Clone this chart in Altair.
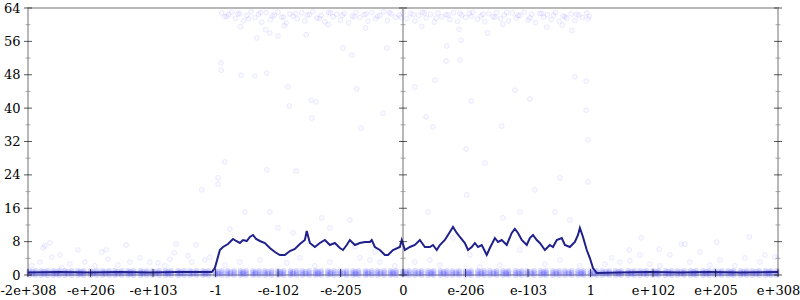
import json
import altair as alt
import pandas as pd

# ---------------- axis definitions ----------------
x_tick_pos = [-6, -5, -4, -3, -2, -1, 0, 1, 2, 3, 4, 5, 6]
x_tick_labels = ["-2e+308", "-e+206", "-e+103", "-1", "-e-102", "-e-205", "0",
                 "e-206", "e-103", "1", "e+102", "e+205", "e+308"]
y_major = [0, 8, 16, 24, 32, 40, 48, 56, 64]
y_minor = [4, 12, 20, 28, 36, 44, 52, 60]
axis_lines = [-6, 0, 6]

# ---------------- average error line ----------------
line_x = [-6.0, -5.49, -5.01, -4.53, -4.05, -3.57, -3.06, -3.01, -2.93, -2.88, -2.8, -2.72,
          -2.67, -2.61, -2.56, -2.5, -2.45, -2.4, -2.35, -2.29, -2.21, -2.13, -2.05, -1.97,
          -1.89, -1.81, -1.73, -1.65, -1.57, -1.54, -1.49, -1.41, -1.33, -1.25, -1.17, -1.09,
          -1.01, -0.96, -0.9, -0.85, -0.77, -0.69, -0.61, -0.53, -0.5, -0.45, -0.37, -0.29,
          -0.24, -0.16, -0.05, -0.02, 0.03, 0.11, 0.19, 0.27, 0.35, 0.43, 0.48, 0.54, 0.59,
          0.67, 0.75, 0.8, 0.86, 0.91, 0.99, 1.04, 1.1, 1.15, 1.2, 1.26, 1.34, 1.39, 1.47,
          1.52, 1.58, 1.66, 1.74, 1.79, 1.84, 1.9, 1.98, 2.03, 2.08, 2.14, 2.19, 2.27, 2.35,
          2.4, 2.46, 2.54, 2.59, 2.67, 2.75, 2.8, 2.83, 2.88, 2.94, 2.99, 3.04, 3.1, 3.47,
          3.95, 4.43, 4.91, 5.39, 6.0]
line_y = [0.6, 0.72, 0.6, 0.72, 0.6, 0.72, 0.72, 1.68, 5.99, 6.71, 7.43, 8.63,
          8.15, 7.67, 8.39, 8.15, 9.11, 9.59, 8.63, 8.15, 7.67, 6.47, 5.51, 4.79,
          4.79, 5.75, 6.23, 7.43, 8.39, 10.55, 7.67, 6.71, 7.67, 8.39, 7.19, 7.67,
          6.47, 5.99, 7.19, 8.39, 7.19, 7.67, 7.91, 7.91, 8.39, 6.71, 5.99, 4.79,
          4.79, 5.99, 6.71, 8.39, 5.99, 6.71, 7.19, 8.39, 6.71, 6.71, 7.19, 5.99, 7.19,
          8.39, 10.31, 11.51, 10.07, 9.11, 7.67, 5.99, 6.71, 7.67, 6.71, 7.19, 4.79, 6.47, 8.87,
          7.91, 8.39, 7.19, 10.07, 11.03, 10.07, 8.39, 7.19, 8.87, 9.59, 8.39, 7.67, 5.99, 7.19,
          6.71, 8.39, 8.87, 7.19, 6.71, 7.91, 9.59, 11.27, 9.11, 5.99, 4.07, 1.68, 0.48, 0.6,
          0.72, 0.6, 0.72, 0.6, 0.72]

# ---------------- scattered sample points ----------------
pts_x = [-2.91, -2.91, -2.59, -2.37, -2.18, -1.84, -1.82, -1.47, -1.39, -1.46, -0.67, -0.32,
         -0.74, -2.34, -2.13, -0.26, 0.69, 0.19, 0.51, 1.09, 1.79, 2.03, 0.37, 0.48, 1.58,
         2.75, 2.93, 2.93, 2.96, 1.01, 0.91, 0.7, 0.93, -0.82, -0.96,
         -3.22, -2.85, -2.96, -2.96, -2.53, -2.18, -1.71, -2.13, -1.76, -2.0, -2.77, -1.3,
         -1.17, -0.85, -0.77, -0.53, -0.45, 1.02, 0.4, 1.31, 1.87, 2.51, 2.96, 2.67, 2.43,
         1.6, 2.11, 0.8, -1.86,
         -3.17, -3.09, -2.61, -2.29, -1.65, -1.17, -0.69, -0.37, 0.43, 1.07, 1.87, 2.51, 1.55,
         0.59, 0.19, 2.27, -0.13, -2.85, -1.41, 1.23, 2.83,
         -5.81, -5.76, -5.65, -5.73, -5.46, -5.2, -4.82, -4.75, -4.72, -4.43, -4.37, -4.05,
         -3.92, -3.63, -3.38, -3.44, -3.66, -3.73, -5.94, -5.62, -5.49, -5.09, -4.56, -4.21,
         -3.31, -5.33, -4.93, -3.81,
         3.81, 4.45, 4.51, 5.02, 5.54, 4.1, 3.62, 3.79, 3.34, 3.63, 3.95, 4.27, 4.75, 5.07,
         5.47, 5.79, 5.95, 3.47, 4.59, 5.31, 5.71, 3.23, 4.11, 4.91,
         -2.6, -2.2, -1.9, -1.2, -0.6, 0.3, 0.9, 1.6, 2.3, 2.7, -1.55, -2.0, 1.35, 2.55]
pts_y = [50.8, 49.1, 47.9, 47.7, 48.4, 45.1, 40.5, 41.9, 41.5, 37.6, 35.2, 38.8,
         44.6, 56.8, 58.0, 54.4, 51.3, 45.1, 46.7, 41.7, 44.3, 42.2, 37.9, 35.5, 35.7,
         47.5, 46.5, 39.5, 32.4, 30.2, 51.5, 54.9, 56.3, 52.7, 54.4,
         20.4, 27.1, 23.3, 21.8, 15.1, 25.2, 24.9, 15.1, 10.1, 11.3, 11.0, 13.7,
         11.3, 13.2, 6.7, 3.6, 5.5, 19.2, 15.1, 26.8, 15.1, 23.3, 22.3, 13.2, 15.1,
         13.7, 20.4, 8.9, 2.9,
         3.6, 4.3, 3.1, 3.6, 4.1, 3.1, 4.1, 3.1, 3.6, 4.8, 6.0, 3.6, 2.4,
         2.4, 3.1, 2.6, 2.2, 2.4, 2.2, 1.9, 2.2,
         3.1, 6.5, 7.7, 7.0, 1.7, 6.0, 5.5, 6.0, 3.8, 7.2, 3.1, 3.1,
         2.9, 7.4, 3.1, 4.6, 5.3, 3.8, 2.2, 4.3, 4.8, 3.1, 2.4, 4.1,
         7.2, 2.6, 2.2, 2.2,
         8.9, 7.4, 7.4, 7.9, 9.1, 6.2, 6.0, 4.8, 4.1, 3.4, 2.6, 4.8, 5.5, 3.6,
         4.1, 4.8, 4.3, 3.1, 3.1, 2.2, 3.1, 2.6, 2.2, 2.4,
         59.5, 58.8, 59.8, 60.0, 59.2, 59.6, 58.9, 60.1, 59.4, 58.6, 57.6, 57.3, 58.0, 59.9]

# dense band of samples near the top, between -1 and 1
top_x = [-2.9, -2.85, -2.79, -2.74, -2.68, -2.61, -2.55, -2.5, -2.43, -2.37, -2.31, -2.26,
         -2.19, -2.12, -2.06, -2.0, -1.94, -1.87, -1.81, -1.76, -1.69, -1.62, -1.57, -1.5,
         -1.44, -1.38, -1.31, -1.25, -1.19, -1.12, -1.06, -1.0, -0.94, -0.87, -0.81, -0.75,
         -0.69, -0.62, -0.56, -0.5, -0.44, -0.37, -0.31, -0.25, -0.19, -0.12, -0.06, 0.0,
         0.06, 0.12, 0.19, 0.25, 0.31, 0.37, 0.44, 0.5, 0.56, 0.62, 0.69, 0.75, 0.81, 0.87,
         0.94, 1.0, 1.06, 1.12, 1.19, 1.25, 1.31, 1.37, 1.44, 1.5, 1.56, 1.62, 1.69, 1.75,
         1.81, 1.87, 1.94, 2.0, 2.06, 2.12, 2.19, 2.25, 2.31, 2.37, 2.44, 2.5, 2.56, 2.62,
         2.69, 2.75, 2.81, 2.87, 2.94, 2.98]
top_y = [62.8, 61.9, 62.4, 63.0, 61.5, 62.6, 60.9, 62.2, 63.1, 61.7, 62.5, 60.6,
         62.9, 61.2, 62.3, 63.0, 61.8, 60.4, 62.6, 62.0, 61.4, 62.8, 60.9, 62.4,
         63.1, 61.6, 62.2, 60.7, 62.9, 61.9, 62.5, 61.1, 62.7, 60.5, 62.1, 63.0,
         61.7, 62.4, 60.8, 62.9, 61.4, 62.2, 63.1, 61.0, 62.6, 61.8, 62.3, 62.9,
         61.5, 62.7, 60.9, 62.2, 63.0, 61.6, 62.5, 60.6, 62.8, 61.9, 62.4, 61.2,
         62.9, 60.8, 62.3, 61.7, 62.7, 63.0, 61.3, 62.1, 60.7, 62.6, 61.9, 62.9,
         61.4, 62.3, 60.9, 62.8, 61.6, 62.2, 63.0, 61.1, 62.5, 60.5, 62.7, 61.8,
         62.4, 61.2, 62.9, 60.8, 62.1, 61.6, 62.6, 61.0, 62.3, 61.7, 62.8, 62.0]
top_x2 = [-2.82, -2.64, -2.47, -2.28, -2.09, -1.91, -1.72, -1.53, -1.34, -1.16, -0.97, -0.78,
          -0.59, -0.41, -0.22, -0.03, 0.16, 0.34, 0.53, 0.72, 0.91, 1.09, 1.28, 1.47, 1.66,
          1.84, 2.03, 2.22, 2.41, 2.59, 2.78, 2.96]
top_y2 = [62.0, 62.6, 61.4, 62.9, 62.1, 61.8, 62.7, 62.3, 61.5, 62.8, 62.2, 61.9,
          62.6, 62.0, 62.9, 61.7, 62.4, 62.8, 61.6, 62.3, 62.7, 62.0, 62.5, 61.8, 62.9,
          62.2, 61.6, 62.7, 62.3, 61.9, 62.5, 61.4]

# bottom band of exact / near-exact samples (error 0 to 1 bits)
band_x = [-5.98, -5.88, -5.79, -5.69, -5.6, -5.5, -5.41, -5.3, -5.2, -5.11, -5.0, -4.9, -4.81,
          -4.7, -4.61, -4.5, -4.4, -4.31, -4.2, -4.1, -4.01, -3.9, -3.8, -3.71, -3.6, -3.5,
          -3.41, -3.3, -3.2, -3.11, -3.0, -2.9, -2.81, -2.7, -2.6, -2.51, -2.4, -2.3, -2.21,
          -2.1, -2.0, -1.91, -1.8, -1.7, -1.61, -1.5, -1.4, -1.31, -1.2, -1.1, -1.01, -0.9,
          -0.8, -0.71, -0.6, -0.5, -0.41, -0.3, -0.2, -0.11, 0.0, 0.1, 0.19, 0.3, 0.4, 0.49,
          0.6, 0.7, 0.79, 0.9, 1.0, 1.09, 1.2, 1.3, 1.39, 1.5, 1.6, 1.69, 1.8, 1.9, 1.99,
          2.1, 2.2, 2.29, 2.4, 2.5, 2.59, 2.7, 2.8, 2.89, 3.0, 3.1, 3.19, 3.3, 3.4, 3.49, 3.6,
          3.7, 3.79, 3.9, 4.0, 4.09, 4.2, 4.3, 4.39, 4.5, 4.6, 4.69, 4.8, 4.9, 4.99, 5.1,
          5.2, 5.29, 5.4, 5.5, 5.59, 5.7, 5.8, 5.89, 5.98]
band_x2 = [-5.93, -5.74, -5.55, -5.36, -5.16, -4.96, -4.76, -4.56, -4.36, -4.16, -3.96, -3.76,
           -3.56, -3.36, -3.16, -2.96, -2.76, -2.56, -2.36, -2.16, -1.96, -1.76, -1.56, -1.36,
           -1.16, -0.96, -0.76, -0.56, -0.36, -0.16, 0.05, 0.25, 0.45, 0.65, 0.85, 1.05, 1.25,
           1.45, 1.65, 1.85, 2.05, 2.25, 2.45, 2.65, 2.85, 3.05, 3.25, 3.45, 3.65, 3.85, 4.05,
           4.25, 4.45, 4.65, 4.85, 5.05, 5.25, 5.45, 5.65, 5.85]
band_levels = [0.0, 0.5, 1.0]
band_levels2 = [0.25, 0.75]

# ---------------- data frames ----------------
line_df = pd.DataFrame({"x": line_x, "y": line_y})
pts_df = pd.DataFrame({"x": pts_x[:len(pts_y)], "y": pts_y[:len(pts_x)]})
top_df = pd.DataFrame({"x": top_x + top_x2, "y": top_y + top_y2})
band_df = pd.DataFrame([{"x": bx, "y": lv} for lv in band_levels for bx in band_x] +
                       [{"x": bx, "y": lv} for lv in band_levels2 for bx in band_x2])
major_df = pd.DataFrame([{"x": a, "y": v} for a in axis_lines for v in y_major])
minor_df = pd.DataFrame([{"x": a, "y": v} for a in axis_lines for v in y_minor])
xt_df = pd.DataFrame({"x": x_tick_pos})
center_df = pd.DataFrame({"x": [0]})

label_expr = "%s[datum.value + 6]" % json.dumps(x_tick_labels)
FONT = "DejaVu Serif"

xscale = alt.Scale(domain=[-6, 6], nice=False, zero=False)
yscale = alt.Scale(domain=[0, 64], nice=False, zero=False)
xaxis = alt.Axis(values=x_tick_pos, labelExpr=label_expr, title=None, ticks=False,
                 domain=False, grid=False, labelPadding=9, labelFont=FONT,
                 labelFontSize=13, labelColor="#000", labelOverlap=False, labelFlush=False)
yaxis = alt.Axis(values=y_major, title=None, ticks=False, domain=False, grid=False,
                 labelPadding=8, labelFont=FONT, labelFontSize=13, labelColor="#000")

X = alt.X("x:Q", scale=xscale, axis=xaxis)
Y = alt.Y("y:Q", scale=yscale, axis=yaxis)

center = alt.Chart(center_df).mark_rule(color="#b8b8b8", strokeWidth=2).encode(x=X)

scatter = alt.Chart(pd.concat([pts_df, top_df])).mark_point(
    shape="circle", size=24, fill="#0000ff", fillOpacity=0.025,
    stroke="#0000ff", strokeOpacity=0.075, strokeWidth=1
).encode(x=X, y=Y)

band = alt.Chart(band_df).mark_circle(size=34, color="#2828ff", opacity=0.16).encode(x=X, y=Y)

line = alt.Chart(line_df).mark_line(color="#20208c", strokeWidth=2).encode(x=X, y=Y)

major = alt.Chart(major_df).mark_tick(orient="horizontal", size=8, thickness=1,
                                       color="#111").encode(x=X, y=Y)
minor = alt.Chart(minor_df).mark_tick(orient="horizontal", size=5, thickness=1,
                                       color="#888").encode(x=X, y=Y)
xticks = alt.Chart(xt_df).mark_tick(orient="vertical", size=8, thickness=1,
                                     color="#111").encode(x=X, y=alt.value(265))

chart = alt.layer(center, scatter, band, line, major, minor, xticks).properties(
    width=750, height=267,
    padding={"left": 28, "top": 8, "right": 22, "bottom": 25},
    autosize=alt.AutoSizeParams(type="none"),
).configure_view(stroke="#b8b8b8", strokeWidth=2)

chart.save("out.html", embed_options={"renderer": "svg", "actions": False})
